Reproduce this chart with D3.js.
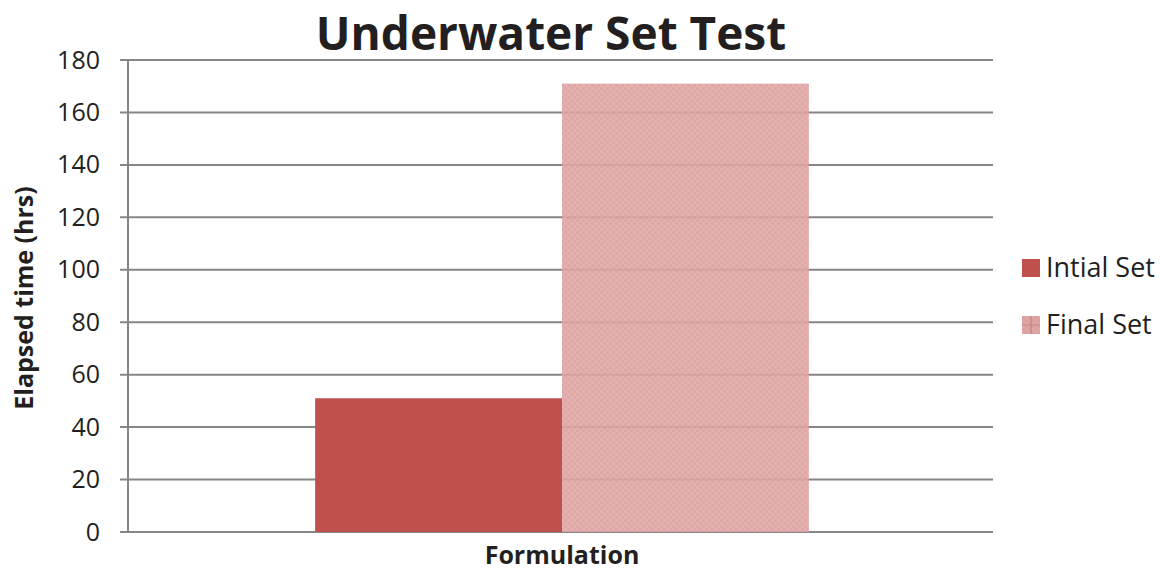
<!DOCTYPE html>
<html>
<head>
<meta charset="utf-8">
<script src="https://cdn.jsdelivr.net/npm/d3@7"></script>
<style>
  html, body { margin: 0; padding: 0; background: #fff; }
  svg { display: block; font-family: "Open Sans", "DejaVu Sans", sans-serif; }
</style>
</head>
<body>
<svg id="chart" width="1173" height="573"></svg>
<script>
// Chart data
const categories = ["Formulation"];
const seriesNames = ["Intial Set", "Final Set"];
const initialSet = [51];
const finalSet = [171];
const yTicks = [0, 20, 40, 60, 80, 100, 120, 140, 160, 180];

const svg = d3.select("#chart");
const W = 1173, H = 573;
const margin = { left: 128, right: 180, top: 60, bottom: 41 };
const plotW = W - margin.left - margin.right;
const plotH = H - margin.top - margin.bottom;

// Patterned fill for the final-set series
const defs = svg.append("defs");
const pat = defs.append("pattern")
  .attr("id", "finalPat").attr("patternUnits", "userSpaceOnUse")
  .attr("width", 6).attr("height", 6);
pat.append("rect").attr("width", 6).attr("height", 6).attr("fill", "#e1a7a7");
pat.append("rect").attr("width", 3).attr("height", 3).attr("fill", "#dc9f9f");
pat.append("rect").attr("x", 3).attr("y", 3).attr("width", 3).attr("height", 3).attr("fill", "#dc9f9f");

const x0 = d3.scaleBand().domain(categories).range([0, plotW]).paddingInner(0).paddingOuter(0.376);
const x1 = d3.scaleBand().domain(seriesNames).range([0, x0.bandwidth()]).padding(0);
const y = d3.scaleLinear().domain([0, 180]).range([plotH, 0]);

const g = svg.append("g").attr("transform", `translate(${margin.left + 1.5},${margin.top})`);

const rows = categories.map((c, i) => ({ cat: c, values: [initialSet[i], finalSet[i]] }));

// Gridlines
const grid = g.append("g").attr("class", "grid");
grid.selectAll("line").data(yTicks).join("line")
  .attr("x1", -9.5).attr("x2", plotW - 1.5)
  .attr("y1", d => y(d)).attr("y2", d => y(d))
  .attr("stroke", "#868686").attr("stroke-width", 2);

// Bars
const barG = g.append("g").selectAll("g").data(rows).join("g")
  .attr("transform", d => `translate(${x0(d.cat)},0)`);
barG.selectAll("rect")
  .data(d => d.values.map((v, i) => ({ key: seriesNames[i], v })))
  .join("rect")
  .attr("x", d => x1(d.key))
  .attr("width", x1.bandwidth())
  .attr("y", d => y(d.v))
  .attr("height", d => plotH - y(d.v))
  .attr("fill", d => d.key === "Intial Set" ? "#c0504d" : "url(#finalPat)")
  .attr("fill-opacity", d => d.key === "Intial Set" ? 1 : 0.9);

// Y axis line
g.append("line").attr("x1", -1.5).attr("x2", -1.5).attr("y1", 0).attr("y2", plotH)
  .attr("stroke", "#868686").attr("stroke-width", 2);

// Y tick labels
const yAxis = d3.axisLeft(y).tickValues(yTicks).tickSize(0).tickPadding(29.5);
const ya = g.append("g").call(yAxis);
ya.select(".domain").remove();
ya.selectAll("text").attr("font-size", 25).attr("fill", "#231f20")
  .attr("font-family", "'Open Sans', sans-serif");

// Category axis label
const xAxis = d3.axisBottom(x0).tickSize(0).tickPadding(14);
const xa = g.append("g").attr("transform", `translate(0,${plotH})`).call(xAxis);
xa.select(".domain").remove();
xa.selectAll("text").attr("font-size", 25).attr("font-weight", "bold").attr("fill", "#231f20")
  .attr("font-family", "'Open Sans', sans-serif");

// Title
svg.append("text").attr("x", 551).attr("y", 50).attr("text-anchor", "middle")
  .attr("font-size", 46).attr("font-weight", "bold").attr("fill", "#231f20")
  .text("Underwater Set Test");

// Y axis title
svg.append("text").attr("transform", `translate(33,${margin.top + plotH / 2 + 2}) rotate(-90)`)
  .attr("text-anchor", "middle").attr("font-size", 25).attr("font-weight", "bold").attr("fill", "#231f20")
  .text("Elapsed time (hrs)");

// Legend
const legend = svg.append("g").attr("transform", "translate(1022,259)");
const li = legend.selectAll("g").data(seriesNames).join("g")
  .attr("transform", (d, i) => `translate(0,${i * 57})`);
li.append("rect").attr("width", 18).attr("height", 18)
  .attr("fill", d => d === "Intial Set" ? "#c0504d" : "url(#finalPat)");
li.filter(d => d !== "Intial Set").append("path")
  .attr("d", "M9,0V18M0,9H18").attr("stroke", "#c98383").attr("stroke-width", 1.2);
li.append("text").attr("x", 24).attr("y", 18).attr("font-size", 27).attr("fill", "#231f20")
  .text(d => d);
</script>
</body>
</html>
